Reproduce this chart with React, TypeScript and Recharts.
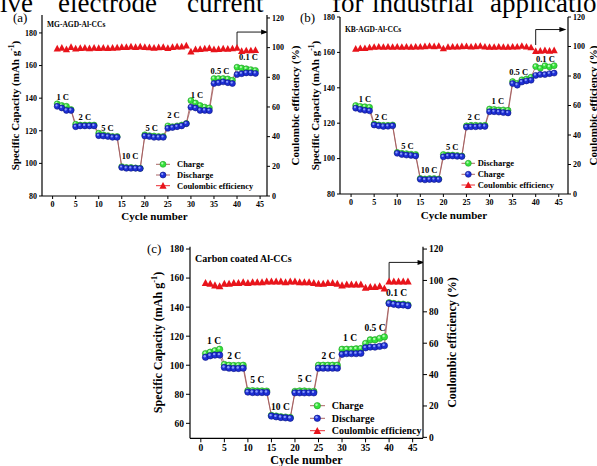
import React from 'react';
import { ComposedChart, Line, Scatter, XAxis, YAxis, Legend } from 'recharts';

// ---------- data ----------
const cycles = [1,2,3,4,5,6,7,8,9,10,11,12,13,14,15,16,17,18,19,20,21,22,23,24,25,26,27,28,29,30,31,32,33,34,35,36,37,38,39,40,41,42,43,44];
const xTicks = [0,5,10,15,20,25,30,35,40,45];

// (a) MG-AGD-Al-CCs
const aCharge = [136.5,135.5,135,133, 124,123.5,123.5,123.5,123.5, 118.5,117.5,117,116.5,116.5, 98,97.5,97.5,97.2,97, 117.5,117,116.8,116.5,116.5, 123,122.5,123,123.5,124.5, 138.5,137,135.5,134.5,134, 152,152,152,151.8,151, 159,158.5,158,157.5,157];
const aDischarge = [135,134,132.5,132.5, 122.5,123,123,123,123, 117,116.8,116.5,116,116, 97.5,97,97,97,96.8, 116.8,116.5,116,116,116, 121.5,122,122.5,123,124.3, 134.5,134,132.5,132.5,132.3, 149,149.5,150,149.5,149, 154.5,155,155.5,155.5,155.2];
const aCE = [99.5,100,99,100.5,99.5,99.8,100,99.7,100,99.8,100,99.8,100,100.2,100.5,100.5,100.8,100.5,100.8,100.5,100.3,100,100.3,100.5,99.8,100.5,100.8,100.8,101.5,97.5,99,99.2,99.5,99.8,99,99.2,99.5,99.3,99.6,100,97.8,98.2,98.2,98.5];
const aRates = ['1 C','2 C','5 C','10 C','5 C','2 C','1 C','0.5 C','0.1 C'];
const aRateX = [2.2,7,11.9,16.8,21.5,26.2,31.3,36.3,42.5];
const aRateY = [141,128.7,121.9,104.5,122,129.7,142,156.8,165.2];

// (b) KB-AGD-Al-CCs
const bDischarge = [130,129.5,129.3,129, 119.5,119,118.8,118.8,119, 103.5,103,102.8,102.5,102.3, 88.8,88.5,88.7,88.7,88.5, 102.3,102,102,101.8,101.5, 118.5,118.8,118.8,118.7,118.8, 128,127.8,127.5,127.5,127.3, 143.5,142.5,144.5,145,146, 152,151,152.5,151.8,152.5];
const bCharge = [128.5,127.8,127.3,127, 119,118.5,118.2,118.3,118.5, 103,102.3,102,101.8,101.5, 88.3,88,88.2,88.2,88.2, 101,101.5,101.5,101.3,101.2, 117.8,118,118,118.2,118.2, 126.5,126.5,126.3,126,125.8, 142.4,141.5,143.3,143.9,144.3, 147,147.5,147.5,148,148.3];
const bCE = [98.5,99,99,99.5,99.8,100,99.8,100,99.8,100,99.8,100,99.8,100,100,100.2,100.5,100.2,100.5,98.8,99.8,100,100,100.2,100.3,100,100.2,100.5,100,99.8,99.8,100,99.8,99.8,100,100,100.5,100,99.5,97,97.2,97.5,97.2,97.5];
const bRates = ['1 C','2 C','5 C','10 C','5 C','2 C','1 C','0.5 C','0.1 C'];
const bRateX = [3.0,6.5,12.2,16.9,21.9,26.6,31.8,36.3,42.1];
const bRateY = [133.6,123.6,107.2,93.5,106.7,123.6,132.5,149,156.5];

// (c) Carbon coated Al-CCs
const cCharge = [108,109,110,111, 100.5,100,99.8,99.8,100, 82.5,82.5,82.3,82.3,82.2, 65.5,65,64.5,64.3,64, 82,82.3,82.3,82,82, 100,100,100,100,100, 111,111,111,111.3,111.5, 115,117.5,117.5,118.5,119.5, 143,142.5,142,142,141.5];
const cDischarge = [105.5,106.5,107,107, 98.5,98,97.8,97.8,98, 81.5,81.2,81.2,81.2,81.2, 65,64.5,64,63.8,63.5, 81,81,81,81,81, 98,98,98,98,98, 107.5,108,108,108,108.2, 112,112.5,112.5,113,113.5, 142.5,142,141.5,141.5,141];
const cCE = [98.5,98,97,96.5,98,98,98.5,98.5,99,98.5,99,99,99,99.5,99.5,99.5,99.5,99,99.5,99.5,99,99,99,98.5,98,98,98.5,98.5,98,97,97.5,97.5,97.5,97.5,95.5,96,96,96.5,95,99.5,99.5,99.5,99.5,99.5];
const cRates = ['1 C','2 C','5 C','10 C','5 C','2 C','1 C','0.5 C','0.1 C'];
const cRateX = [2.8,7.1,12,16.9,22.1,27.1,31.7,37,41.6];
const cRateY = [116.9,106.6,89.8,71.4,90.5,106.6,118.5,125.8,149.5];

// arrow pointing to right axis (cycle, CE)
const aArrowX = [40,40,46.1];
const aArrowY = [101,110.5,110.5];
const bArrowX = [40,40,46];
const bArrowY = [101,111.5,111.5];
const cArrowX = [40,40,46.9];
const cArrowY = [101,111.5,111.5];

const FONT = '"Liberation Serif", "Times New Roman", serif';
const GREEN = { fill: '#35e23a', hi: '#c8ffc8', edge: '#1f9a24' };
const BLUE = { fill: '#1e2fd6', hi: '#9fb0ff', edge: '#0c1480' };
const RED = '#e8141b';
const LINK = '#a05555';

const Ball = ({ cx, cy, c, r }: any) => {
  if (cx == null || cy == null || isNaN(cx) || isNaN(cy)) return null;
  return (
    <g>
      <circle cx={cx} cy={cy} r={r} fill={c.fill} stroke={c.edge} strokeWidth={0.6} />
      <circle cx={cx - r * 0.25} cy={cy - r * 0.3} r={r * 0.38} fill={c.hi} opacity={0.85} />
    </g>
  );
};

const Tri = ({ cx, cy, s }: any) => {
  if (cx == null || cy == null || isNaN(cx) || isNaN(cy)) return null;
  return <polygon points={`${cx - s},${cy + s * 0.85} ${cx + s},${cy + s * 0.85} ${cx},${cy - s}`} fill={RED} />;
};

const Panel = ({ cfg }: any) => {
  const data = cycles.map((c, i) => ({ cycle: c, s1: cfg.s1[i], s2: cfg.s2[i], ce: cfg.ce[i] }));
  const labels = cfg.rates.map((t: string, i: number) => ({ cycle: cfg.rateX[i], v: cfg.rateY[i], t }));
  const arrow = cfg.arrowX.map((x: number, i: number) => ({ cycle: x, v: cfg.arrowY[i], head: i === cfg.arrowX.length - 1 }));
  const tickStyle = { fill: '#000', fontSize: cfg.tickFont, fontFamily: FONT, fontWeight: 'bold' };
  const axisLine = { stroke: '#000', strokeWidth: 1.2 };
  const tickLine = { stroke: '#000', strokeWidth: 1 };
  const yLabelL = (props: any) => {
    const vb = props.viewBox || { x: 0, y: 0, width: 0, height: 0 };
    const x = vb.x + cfg.yLabelOffL;
    const y = vb.y + vb.height / 2;
    const f = cfg.axisFont;
    return (
      <text x={x} y={y} transform={`rotate(-90 ${x} ${y})`} textAnchor="middle" dominantBaseline="central"
        fontFamily={FONT} fontWeight="bold" fontSize={f} fill="#000">
        Specific Capacity (mAh g<tspan dy={-f * 0.35} fontSize={f * 0.7}>-1</tspan><tspan dy={f * 0.35}>)</tspan>
      </text>
    );
  };
  const yLabelR = (props: any) => {
    const vb = props.viewBox || { x: 0, y: 0, width: 0, height: 0 };
    const x = vb.x + cfg.yLabelOffR;
    const y = vb.y + vb.height / 2;
    return (
      <text x={x} y={y} transform={`rotate(-90 ${x} ${y})`} textAnchor="middle" dominantBaseline="central"
        fontFamily={FONT} fontWeight="bold" fontSize={cfg.axisFont} fill="#000">
        Coulombic efficiency (%)
      </text>
    );
  };
  const xLabel = (props: any) => {
    const vb = props.viewBox || { x: 0, y: 0, width: 0, height: 0 };
    return (
      <text x={vb.x + vb.width / 2} y={vb.y + cfg.xLabelOff} textAnchor="middle" dominantBaseline="central"
        fontFamily={FONT} fontWeight="bold" fontSize={cfg.axisFont} fill="#000">
        Cycle number
      </text>
    );
  };
  const lg = cfg.legend;
  const legendContent = () => (
    <svg width={lg.w} height={lg.h} style={{ display: 'block' }}>
      {lg.items.map((it: any, i: number) => {
        const y = lg.rows[i];
        return (
          <g key={i}>
            <line x1={lg.seg[0]} x2={lg.seg[1]} y1={y} y2={y} stroke={it.kind === 'tri' ? RED : LINK} strokeWidth={0.9} />
            {it.kind === 'tri'
              ? <Tri cx={lg.mx} cy={y} s={cfg.triSize} />
              : <Ball cx={lg.mx} cy={y} r={cfg.r} c={it.kind === 'green' ? GREEN : BLUE} />}
            <text x={lg.tx} y={y} dominantBaseline="central" fontFamily={FONT} fontWeight="bold" fontSize={lg.font} fill="#000">{it.name}</text>
          </g>
        );
      })}
    </svg>
  );
  return (
    <div style={{ position: 'absolute', left: cfg.left, top: cfg.top, width: cfg.width, height: cfg.height, overflow: 'hidden' }}>
      <ComposedChart width={cfg.width} height={cfg.height} data={data} margin={cfg.margin}>
        <XAxis xAxisId="b" type="number" dataKey="cycle" domain={cfg.xDomain} ticks={xTicks} allowDataOverflow
          tick={tickStyle} tickSize={cfg.tickSize} tickMargin={2} tickLine={tickLine} axisLine={axisLine}
          height={cfg.xAxisH} interval={0} label={xLabel} />
        <XAxis xAxisId="t" orientation="top" type="number" dataKey="cycle" domain={cfg.xDomain} allowDataOverflow
          tick={false} tickLine={false} axisLine={axisLine} height={0} />
        <YAxis yAxisId="l" type="number" domain={cfg.yDomain} ticks={cfg.yTicks} allowDataOverflow
          tick={tickStyle} tickSize={cfg.tickSize} tickMargin={2} tickLine={tickLine} axisLine={axisLine}
          width={30} interval={0} label={yLabelL} />
        <YAxis yAxisId="r" orientation="right" type="number" domain={cfg.y2Domain} ticks={[0,20,40,60,80,100,120]} allowDataOverflow
          tick={tickStyle} tickSize={cfg.tickSize} tickMargin={2} tickLine={tickLine} axisLine={axisLine}
          width={cfg.rightW} interval={0} label={yLabelR} />
        <Legend layout="vertical" align="center" verticalAlign="middle" content={legendContent}
          wrapperStyle={{ position: 'absolute', left: lg.left, top: lg.top, width: lg.w, height: lg.h }} />
        <Line xAxisId="b" yAxisId="l" type="linear" dataKey="s1" stroke={LINK} strokeWidth={0.8} isAnimationActive={false}
          activeDot={false} dot={(p: any) => <Ball key={`g${p.index}`} cx={p.cx} cy={p.cy} r={cfg.r} c={GREEN} />} />
        <Line xAxisId="b" yAxisId="l" type="linear" dataKey="s2" stroke={LINK} strokeWidth={0.8} isAnimationActive={false}
          activeDot={false} dot={(p: any) => <Ball key={`b${p.index}`} cx={p.cx} cy={p.cy} r={cfg.r} c={BLUE} />} />
        <Line xAxisId="b" yAxisId="r" type="linear" dataKey="ce" stroke="none" isAnimationActive={false}
          activeDot={false} dot={(p: any) => <Tri key={`t${p.index}`} cx={p.cx} cy={p.cy} s={cfg.triSize} />} />
        <Scatter xAxisId="b" yAxisId="r" data={arrow} dataKey="v" isAnimationActive={false}
          line={{ stroke: '#000', strokeWidth: 0.9 }}
          shape={(p: any) => p.payload && p.payload.head
            ? <polygon points={`${p.cx + 3},${p.cy} ${p.cx - 4},${p.cy - 2.5} ${p.cx - 4},${p.cy + 2.5}`} fill="#000" />
            : <g />} />
        <Scatter xAxisId="b" yAxisId="l" data={labels} dataKey="v" isAnimationActive={false}
          shape={(p: any) => (
            <text x={p.cx} y={p.cy} textAnchor="middle" dominantBaseline="central" fontFamily={FONT}
              fontWeight="bold" fontSize={cfg.rateFont} fill="#000">{p.payload ? p.payload.t : ''}</text>
          )} />
      </ComposedChart>
    </div>
  );
};

const cfgA = {
  left: 0, top: 0, width: 310, height: 232,
  margin: { top: 15, left: 12, right: 13, bottom: 0 },
  xAxisH: 36, rightW: 30,
  xDomain: [-2.3, 46.5], yDomain: [80, 191], y2Domain: [0, 122], yTicks: [80,100,120,140,160,180],
  s1: aCharge, s2: aDischarge, ce: aCE,
  rates: aRates, rateX: aRateX, rateY: aRateY,
  arrowX: aArrowX, arrowY: aArrowY,
  tickFont: 8, tickSize: 3, axisFont: 11, rateFont: 8.5, r: 3, triSize: 3.6,
  yLabelOffL: 3, yLabelOffR: 28, xLabelOff: 19.5,
  legend: { left: 150, top: 157, w: 140, h: 36, rows: [7.3, 18, 28.7], mx: 13, seg: [6, 20], tx: 27, font: 8.5,
    items: [{ name: 'Charge', kind: 'green' }, { name: 'Discharge', kind: 'blue' }, { name: 'Coulombic efficiency', kind: 'tri' }] },
};

const cfgB = {
  left: 296, top: 0, width: 302, height: 232,
  margin: { top: 17, left: 14, right: 0, bottom: 0 },
  xAxisH: 38, rightW: 30,
  xDomain: [-2.4, 47], yDomain: [80, 180], y2Domain: [0, 120], yTicks: [80,100,120,140,160,180],
  s1: bDischarge, s2: bCharge, ce: bCE,
  rates: bRates, rateX: bRateX, rateY: bRateY,
  arrowX: bArrowX, arrowY: bArrowY,
  tickFont: 8, tickSize: 3, axisFont: 11, rateFont: 8.5, r: 3, triSize: 3.6,
  yLabelOffL: 5, yLabelOffR: 25, xLabelOff: 21,
  legend: { left: 159, top: 156, w: 140, h: 36, rows: [7.3, 18.3, 29], mx: 13.3, seg: [6.5, 20], tx: 22.7, font: 8.5,
    items: [{ name: 'Discharge', kind: 'green' }, { name: 'Charge', kind: 'blue' }, { name: 'Coulombic efficiency', kind: 'tri' }] },
};

const cfgC = {
  left: 130, top: 230, width: 333, height: 236,
  margin: { top: 16.7, left: 30, right: 0, bottom: 0 },
  xAxisH: 27.7, rightW: 40,
  xDomain: [-2.3, 47.2], yDomain: [49.7, 181.6], y2Domain: [-0.6, 121.5], yTicks: [60,80,100,120,140,160,180],
  s1: cCharge, s2: cDischarge, ce: cCE,
  rates: cRates, rateX: cRateX, rateY: cRateY,
  arrowX: cArrowX, arrowY: cArrowY,
  tickFont: 9.5, tickSize: 4, axisFont: 12, rateFont: 9.5, r: 3.2, triSize: 3.8,
  yLabelOffL: -1.7, yLabelOffR: 28.7, xLabelOff: 21.7,
  legend: { left: 170, top: 168, w: 150, h: 40, rows: [7.7, 20.3, 32.7], mx: 17.3, seg: [10, 25], tx: 31.7, font: 10,
    items: [{ name: 'Charge', kind: 'green' }, { name: 'Discharge', kind: 'blue' }, { name: 'Coulombic efficiency', kind: 'tri' }] },
};

const headerWords = ['ive', 'electrode', 'current', 'for', 'industrial', 'applicatio'];
const headerX = [0, 58, 187, 332, 372, 490];

export default function App() {
  return (
    <div style={{ position: 'absolute', left: 0, top: 0, width: 597, height: 466, overflow: 'hidden', background: '#fff' }}>
      <Panel cfg={cfgA} />
      <Panel cfg={cfgB} />
      <Panel cfg={cfgC} />
      <svg width={597} height={466} style={{ position: 'absolute', left: 0, top: 0, pointerEvents: 'none' }}>
        {headerWords.map((w, i) => (
          <text key={i} x={headerX[i]} y={11.5} fontFamily={FONT} fontSize={27} fill="#000">{w}</text>
        ))}
        <text x={13} y={22} fontFamily={FONT} fontSize={13} fill="#000">(a)</text>
        <text x={300} y={22} fontFamily={FONT} fontSize={13} fill="#000">(b)</text>
        <text x={147} y={253} fontFamily={FONT} fontSize={13} fill="#000">(c)</text>
        <text x={47} y={26.5} fontFamily={FONT} fontWeight="bold" fontSize={7.5} fill="#000">MG-AGD-Al-CCs</text>
        <text x={345} y={32} fontFamily={FONT} fontWeight="bold" fontSize={7.5} fill="#000">KB-AGD-Al-CCs</text>
        <text x={195} y={261.5} fontFamily={FONT} fontWeight="bold" fontSize={10} fill="#000">Carbon coated Al-CCs</text>
      </svg>
    </div>
  );
}
